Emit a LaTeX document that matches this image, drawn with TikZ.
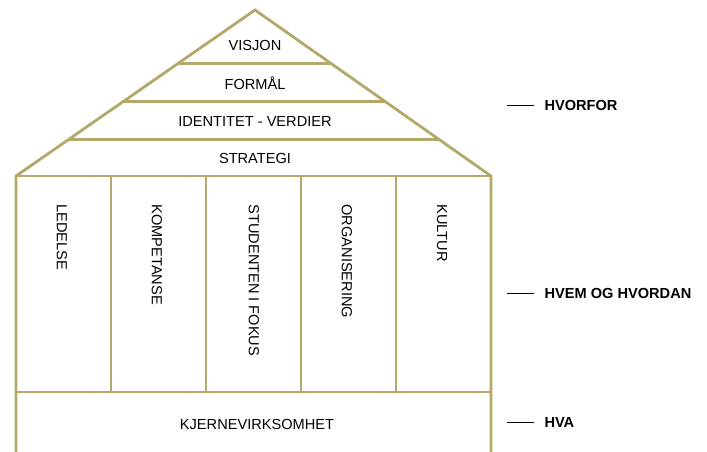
\documentclass[tikz,border=0pt]{standalone}
\usepackage{fontspec}
\setmainfont{Liberation Sans}
\usetikzlibrary{calc,positioning}
\definecolor{husgull}{RGB}{178,168,106}

\begin{document}
\begin{tikzpicture}[x=1pt,y=-1pt,
    hus/.style={draw=husgull,line width=2.8pt},
    felt/.style={font=\fontsize{14.6}{16}\selectfont},
    soyle/.style={felt,rotate=-90,anchor=west},
    niva/.style={font=\fontsize{14.6}{16}\selectfont\bfseries,anchor=west}]
    \useasboundingbox (0,0) rectangle (707,452);
    \coordinate (topp) at (255,10);
    \coordinate (vl) at (16,176);
    \coordinate (vr) at (491,176);
    % tak og vegger
    \draw[hus] (16,455) -- (vl) -- (topp) -- (vr) -- (491,455);
    \draw[hus] (vl) -- (vr);
    \foreach \f in {0.32,0.55,0.78}
        \draw[hus] ($(topp)!\f!(vl)$) -- ($(topp)!\f!(vr)$);
    \foreach \x in {111,206,301,396}
        \draw[hus] (\x,176) -- (\x,392);
    \draw[hus] (16,392) -- (491,392);
    % tekst i taket
    \node[felt] (visjon) at (255,45) {VISJON};
    \node[felt] (formal) at (255,83) {FORMÅL};
    \node[felt] (identitet) at (255,121) {IDENTITET - VERDIER};
    \node[felt] (strategi) at (255,158) {STRATEGI};
    % soylene
    \node[soyle] (ledelse) at (62,201) {LEDELSE};
    \node[soyle] (kompetanse) at (157,201) {KOMPETANSE};
    \node[soyle] (studenten) at (254,201) {STUDENTEN I FOKUS};
    \node[soyle] (organisering) at (347,201) {ORGANISERING};
    \node[soyle] (kultur) at (442,201) {KULTUR};
    \node[felt] (kjerne) at (257,424) {KJERNEVIRKSOMHET};
    % nivaer til hoyre
    \node[niva] (hvorfor) at (541,105) {HVORFOR};
    \node[niva] (hvem) at (541,293) {HVEM OG HVORDAN};
    \node[niva] (hva) at (541,422) {HVA};
    \foreach \n in {hvorfor,hvem,hva}
        \draw[line width=0.9pt] ([xshift=-7pt]\n.west) -- ++(-27,0);
\end{tikzpicture}
\end{document}
